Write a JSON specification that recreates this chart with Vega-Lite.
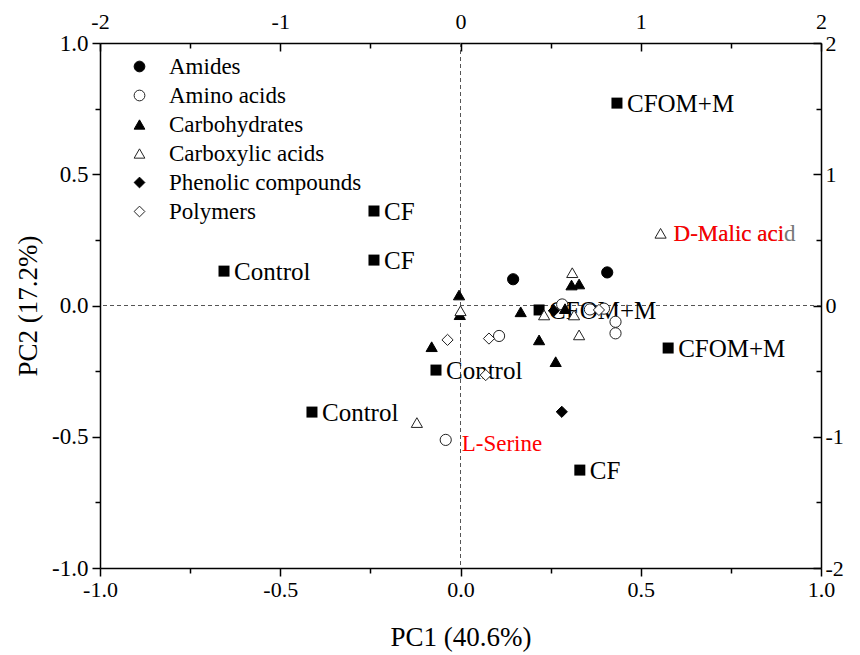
{
  "$schema": "https://vega.github.io/schema/vega-lite/v6.json",
  "width": 721,
  "height": 525,
  "autosize": "none",
  "padding": {"left": 100, "top": 43, "right": 39, "bottom": 87},
  "background": "white",
  "config": {
    "view": {"stroke": null},
    "font": "Liberation Serif",
    "axis": {
      "grid": false,
      "domainColor": "black",
      "domainWidth": 1.5,
      "tickColor": "black",
      "tickWidth": 1.5,
      "labelFont": "Liberation Serif",
      "labelFontSize": 22,
      "labelColor": "black",
      "titleFont": "Liberation Serif",
      "titleFontSize": 27,
      "titleFontWeight": "normal",
      "titleColor": "black",
      "labelFlush": false,
      "labelOverlap": false
    },
    "legend": {
      "labelFont": "Liberation Serif",
      "labelFontSize": 23,
      "labelColor": "black",
      "labelLimit": 400,
      "symbolSize": 115,
      "symbolStrokeWidth": 1,
      "labelOffset": 18,
      "rowPadding": 5,
      "padding": 0
    }
  },
  "datasets": {
    "refs": [{"v": 0}],
    "samples": [
      {"pc1": 0.434, "pc2": 0.771, "treatment": "CFOM+M"},
      {"pc1": -0.240, "pc2": 0.360, "treatment": "CF"},
      {"pc1": -0.240, "pc2": 0.173, "treatment": "CF"},
      {"pc1": -0.656, "pc2": 0.131, "treatment": "Control"},
      {"pc1": 0.218, "pc2": -0.017, "treatment": "CFOM+M"},
      {"pc1": 0.576, "pc2": -0.162, "treatment": "CFOM+M"},
      {"pc1": -0.068, "pc2": -0.246, "treatment": "Control"},
      {"pc1": -0.412, "pc2": -0.406, "treatment": "Control"},
      {"pc1": 0.331, "pc2": -0.627, "treatment": "CF"}
    ],
    "compounds": [
      {"pc1": 0.146, "pc2": 0.100, "group": "Amides", "name": ""},
      {"pc1": 0.407, "pc2": 0.126, "group": "Amides", "name": ""},
      {"pc1": 0.282, "pc2": 0.004, "group": "Amino acids", "name": ""},
      {"pc1": 0.107, "pc2": -0.116, "group": "Amino acids", "name": ""},
      {"pc1": 0.430, "pc2": -0.062, "group": "Amino acids", "name": ""},
      {"pc1": 0.430, "pc2": -0.106, "group": "Amino acids", "name": ""},
      {"pc1": -0.041, "pc2": -0.512, "group": "Amino acids", "name": "L-Serine"},
      {"pc1": 0.359, "pc2": -0.015, "group": "Amino acids", "name": ""},
      {"pc1": 0.398, "pc2": -0.012, "group": "Amino acids", "name": ""},
      {"pc1": -0.004, "pc2": 0.040, "group": "Carbohydrates", "name": ""},
      {"pc1": -0.002, "pc2": -0.035, "group": "Carbohydrates", "name": ""},
      {"pc1": 0.167, "pc2": -0.024, "group": "Carbohydrates", "name": ""},
      {"pc1": 0.308, "pc2": 0.078, "group": "Carbohydrates", "name": ""},
      {"pc1": 0.329, "pc2": 0.082, "group": "Carbohydrates", "name": ""},
      {"pc1": 0.218, "pc2": -0.131, "group": "Carbohydrates", "name": ""},
      {"pc1": 0.264, "pc2": -0.214, "group": "Carbohydrates", "name": ""},
      {"pc1": -0.080, "pc2": -0.157, "group": "Carbohydrates", "name": ""},
      {"pc1": 0.290, "pc2": -0.012, "group": "Carbohydrates", "name": ""},
      {"pc1": 0.310, "pc2": 0.125, "group": "Carboxylic acids", "name": ""},
      {"pc1": 0.000, "pc2": -0.020, "group": "Carboxylic acids", "name": ""},
      {"pc1": 0.232, "pc2": -0.036, "group": "Carboxylic acids", "name": ""},
      {"pc1": 0.315, "pc2": -0.036, "group": "Carboxylic acids", "name": ""},
      {"pc1": 0.329, "pc2": -0.112, "group": "Carboxylic acids", "name": ""},
      {"pc1": -0.121, "pc2": -0.446, "group": "Carboxylic acids", "name": ""},
      {"pc1": 0.555, "pc2": 0.275, "group": "Carboxylic acids", "name": "D-Malic acid"},
      {"pc1": 0.259, "pc2": -0.020, "group": "Phenolic compounds", "name": ""},
      {"pc1": 0.281, "pc2": -0.405, "group": "Phenolic compounds", "name": ""},
      {"pc1": -0.036, "pc2": -0.131, "group": "Polymers", "name": ""},
      {"pc1": 0.079, "pc2": -0.126, "group": "Polymers", "name": ""},
      {"pc1": 0.070, "pc2": -0.265, "group": "Polymers", "name": ""},
      {"pc1": 0.384, "pc2": -0.017, "group": "Polymers", "name": ""}
    ]
  },
  "resolve": {"axis": {"x": "independent", "y": "independent"}},
  "layer": [
    {
      "data": {"name": "refs"},
      "mark": {"type": "rule", "color": "#555555", "strokeDash": [4, 3], "strokeWidth": 1},
      "encoding": {
        "x": {
          "field": "v", "type": "quantitative",
          "scale": {"domain": [-1, 1], "nice": false, "zero": false},
          "axis": {
            "orient": "top", "title": null,
            "values": [-1, -0.75, -0.5, -0.25, 0, 0.25, 0.5, 0.75, 1],
            "labelExpr": "abs(datum.value*2 - round(datum.value*2)) < 0.01 ? replace(format(datum.value*2, 'd'), '\u2212', '-') : ''",
            "tickSize": {"condition": {"test": "abs(datum.value*2 - round(datum.value*2)) < 0.01", "value": -8}, "value": -5},
            "labelFont": "Liberation Serif", "labelFontSize": 22, "labelColor": "black",
            "labelPadding": 18
          }
        }
      }
    },
    {
      "data": {"name": "refs"},
      "mark": {"type": "rule", "color": "#555555", "strokeDash": [4, 3], "strokeWidth": 1},
      "encoding": {
        "y": {
          "field": "v", "type": "quantitative",
          "scale": {"domain": [-1, 1], "nice": false, "zero": false},
          "axis": {
            "orient": "right", "title": null,
            "values": [-1, -0.75, -0.5, -0.25, 0, 0.25, 0.5, 0.75, 1],
            "labelExpr": "abs(datum.value*2 - round(datum.value*2)) < 0.01 ? replace(format(datum.value*2, 'd'), '\u2212', '-') : ''",
            "tickSize": {"condition": {"test": "abs(datum.value*2 - round(datum.value*2)) < 0.01", "value": -8}, "value": -5},
            "labelFont": "Liberation Serif", "labelFontSize": 22, "labelColor": "black",
            "labelPadding": 12
          }
        }
      }
    },
    {
      "data": {"name": "samples"},
      "mark": {"type": "square", "filled": true, "color": "black", "size": 121, "opacity": 1},
      "encoding": {
        "x": {"field": "pc1", "type": "quantitative", "scale": {"domain": [-1, 1], "nice": false, "zero": false}, "axis": null},
        "y": {"field": "pc2", "type": "quantitative", "scale": {"domain": [-1, 1], "nice": false, "zero": false}, "axis": null}
      }
    },
    {
      "data": {"name": "samples"},
      "mark": {"type": "text", "align": "left", "baseline": "middle", "dx": 10, "dy": 1, "font": "Liberation Serif", "fontSize": 25, "color": "black"},
      "encoding": {
        "x": {"field": "pc1", "type": "quantitative", "scale": {"domain": [-1, 1], "nice": false, "zero": false}, "axis": null},
        "y": {"field": "pc2", "type": "quantitative", "scale": {"domain": [-1, 1], "nice": false, "zero": false}, "axis": null},
        "text": {"field": "treatment"}
      }
    },
    {
      "data": {"name": "compounds"},
      "mark": {"type": "point", "filled": true, "strokeWidth": 1, "size": 125, "opacity": 1},
      "encoding": {
        "x": {
          "field": "pc1", "type": "quantitative",
          "scale": {"domain": [-1, 1], "nice": false, "zero": false},
          "axis": {
            "orient": "bottom", "title": "PC1 (40.6%)",
            "values": [-1, -0.75, -0.5, -0.25, 0, 0.25, 0.5, 0.75, 1],
            "labelExpr": "abs(datum.value*2 - round(datum.value*2)) < 0.01 ? replace(format(datum.value, '.1f'), '\u2212', '-') : ''",
            "tickSize": {"condition": {"test": "abs(datum.value*2 - round(datum.value*2)) < 0.01", "value": 8}, "value": 5},
            "labelFont": "Liberation Serif", "labelFontSize": 22, "labelColor": "black",
            "labelPadding": 3,
            "titlePadding": 24
          }
        },
        "y": {
          "field": "pc2", "type": "quantitative",
          "scale": {"domain": [-1, 1], "nice": false, "zero": false},
          "axis": {
            "orient": "left", "title": "PC2 (17.2%)",
            "values": [-1, -0.75, -0.5, -0.25, 0, 0.25, 0.5, 0.75, 1],
            "labelExpr": "abs(datum.value*2 - round(datum.value*2)) < 0.01 ? replace(format(datum.value, '.1f'), '\u2212', '-') : ''",
            "tickSize": {"condition": {"test": "abs(datum.value*2 - round(datum.value*2)) < 0.01", "value": 8}, "value": 5},
            "labelFont": "Liberation Serif", "labelFontSize": 23, "labelColor": "black",
            "labelPadding": 4,
            "titlePadding": 9
          }
        },
        "shape": {
          "field": "group", "type": "nominal",
          "scale": {
            "domain": ["Amides", "Amino acids", "Carbohydrates", "Carboxylic acids", "Phenolic compounds", "Polymers"],
            "range": ["circle", "circle", "triangle-up", "triangle-up", "diamond", "diamond"]
          },
          "legend": {"title": null, "orient": "none", "legendX": 28, "legendY": 12, "symbolSize": 115}
        },
        "fill": {
          "field": "group", "type": "nominal",
          "scale": {
            "domain": ["Amides", "Amino acids", "Carbohydrates", "Carboxylic acids", "Phenolic compounds", "Polymers"],
            "range": ["black", "white", "black", "white", "black", "white"]
          },
          "legend": {"title": null, "orient": "none", "legendX": 28, "legendY": 12, "symbolSize": 115}
        },
        "stroke": {
          "field": "group", "type": "nominal",
          "scale": {
            "domain": ["Amides", "Amino acids", "Carbohydrates", "Carboxylic acids", "Phenolic compounds", "Polymers"],
            "range": ["black", "#222222", "black", "#222222", "black", "#222222"]
          },
          "legend": {"title": null, "orient": "none", "legendX": 28, "legendY": 12, "symbolSize": 115}
        }
      }
    },
    {
      "data": {"name": "compounds"},
      "transform": [{"filter": "datum.name == 'D-Malic acid'"}],
      "mark": {"type": "text", "align": "left", "baseline": "middle", "dx": 13, "dy": 1, "font": "Liberation Serif", "fontSize": 23, "color": "#777777"},
      "encoding": {
        "x": {"field": "pc1", "type": "quantitative", "scale": {"domain": [-1, 1], "nice": false, "zero": false}, "axis": null},
        "y": {"field": "pc2", "type": "quantitative", "scale": {"domain": [-1, 1], "nice": false, "zero": false}, "axis": null},
        "text": {"field": "name"}
      }
    },
    {
      "data": {"name": "compounds"},
      "transform": [{"filter": "datum.name == 'D-Malic acid'"}],
      "mark": {"type": "text", "align": "left", "baseline": "middle", "dx": 13, "dy": 1, "font": "Liberation Serif", "fontSize": 23, "color": "#ff0000", "text": "D-Malic aci"},
      "encoding": {
        "x": {"field": "pc1", "type": "quantitative", "scale": {"domain": [-1, 1], "nice": false, "zero": false}, "axis": null},
        "y": {"field": "pc2", "type": "quantitative", "scale": {"domain": [-1, 1], "nice": false, "zero": false}, "axis": null}
      }
    },
    {
      "data": {"name": "compounds"},
      "transform": [{"filter": "datum.name == 'L-Serine'"}],
      "mark": {"type": "text", "align": "left", "baseline": "middle", "dx": 16, "dy": 4, "font": "Liberation Serif", "fontSize": 23, "color": "#ff0000"},
      "encoding": {
        "x": {"field": "pc1", "type": "quantitative", "scale": {"domain": [-1, 1], "nice": false, "zero": false}, "axis": null},
        "y": {"field": "pc2", "type": "quantitative", "scale": {"domain": [-1, 1], "nice": false, "zero": false}, "axis": null},
        "text": {"field": "name"}
      }
    }
  ]
}
